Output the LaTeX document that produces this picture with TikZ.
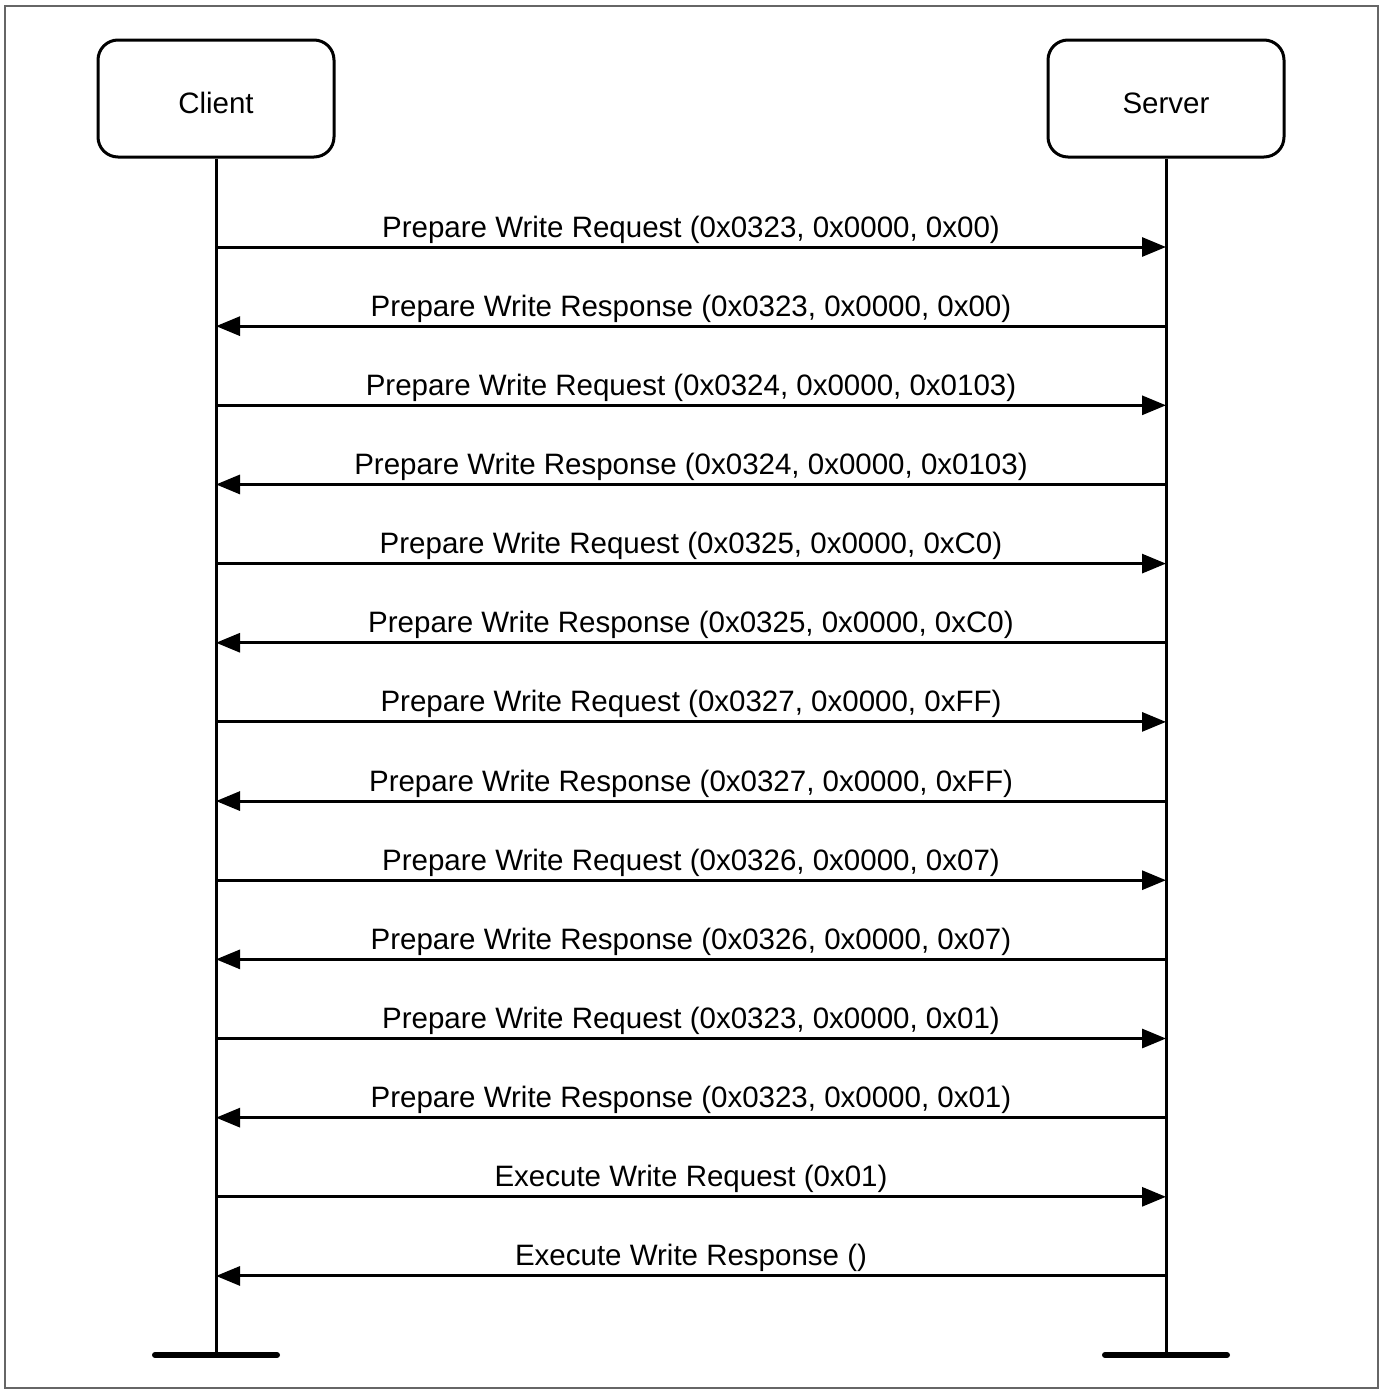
\documentclass[tikz,border=0pt]{standalone}
\usepackage{fontspec}
\setmainfont{Liberation Sans}
\usetikzlibrary{arrows.meta}

\begin{document}
\begin{tikzpicture}[x=1pt,y=-1pt,line width=3pt,>={Triangle[length=24pt,width=19pt]},
    actor/.style={draw,rounded corners=20pt,minimum width=236pt,minimum height=117pt,
      text height=29pt,text depth=0pt,font=\fontsize{29.5}{35}\selectfont},
    msg/.style={anchor=base,yshift=10pt,font=\fontsize{29.5}{35}\selectfont}]
      \useasboundingbox (0,0) rectangle (1384,1392);
      \draw[black!60,line width=1.5pt] (5,6) rectangle (1378,1388);
      \node (client) [actor] at (216,98.5) {Client};
      \node (server) [actor] at (1166,98.5) {Server};
      \coordinate (cend) at (216,1355);
      \coordinate (send) at (1166,1355);
      \draw (client) -- (cend);
      \draw (server) -- (send);
      \draw[line width=6pt,line cap=round] ([xshift=-61pt]cend) -- ([xshift=61pt]cend);
      \draw[line width=6pt,line cap=round] ([xshift=-61pt]send) -- ([xshift=61pt]send);
      \foreach \i in {1,...,14} {
        \coordinate (c\i) at (216,{247+(\i-1)*79.15});
        \coordinate (s\i) at (1166,{247+(\i-1)*79.15});
      }
      \draw[->] (c1) -- node[msg] {Prepare Write Request (0x0323, 0x0000, 0x00)} (s1);
      \draw[->] (s2) -- node[msg] {Prepare Write Response (0x0323, 0x0000, 0x00)} (c2);
      \draw[->] (c3) -- node[msg] {Prepare Write Request (0x0324, 0x0000, 0x0103)} (s3);
      \draw[->] (s4) -- node[msg] {Prepare Write Response (0x0324, 0x0000, 0x0103)} (c4);
      \draw[->] (c5) -- node[msg] {Prepare Write Request (0x0325, 0x0000, 0xC0)} (s5);
      \draw[->] (s6) -- node[msg] {Prepare Write Response (0x0325, 0x0000, 0xC0)} (c6);
      \draw[->] (c7) -- node[msg] {Prepare Write Request (0x0327, 0x0000, 0xFF)} (s7);
      \draw[->] (s8) -- node[msg] {Prepare Write Response (0x0327, 0x0000, 0xFF)} (c8);
      \draw[->] (c9) -- node[msg] {Prepare Write Request (0x0326, 0x0000, 0x07)} (s9);
      \draw[->] (s10) -- node[msg] {Prepare Write Response (0x0326, 0x0000, 0x07)} (c10);
      \draw[->] (c11) -- node[msg] {Prepare Write Request (0x0323, 0x0000, 0x01)} (s11);
      \draw[->] (s12) -- node[msg] {Prepare Write Response (0x0323, 0x0000, 0x01)} (c12);
      \draw[->] (c13) -- node[msg] {Execute Write Request (0x01)} (s13);
      \draw[->] (s14) -- node[msg] {Execute Write Response ()} (c14);
    \end{tikzpicture}
\end{document}
